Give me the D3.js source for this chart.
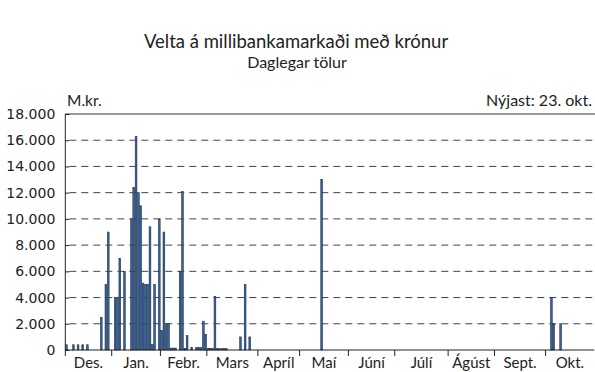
<!DOCTYPE html>
<html>
<head>
<meta charset="utf-8">
<script src="https://cdn.jsdelivr.net/npm/d3@7"></script>
<style>
  html, body { margin: 0; padding: 0; background: #fff; }
  svg { display: block; }
  text { fill: #222; }
</style>
</head>
<body>
<svg id="chart" width="595" height="372"></svg>
<script>
// Month labels and number of trading days in each month
const monthLabels = ["Des.", "Jan.", "Febr.", "Mars", "Apríl", "Maí", "Júní", "Júlí", "Ágúst", "Sept.", "Okt."];
const tradingDays = [20, 21, 20, 22, 18, 21, 20, 23, 20, 22, 21];

// Days with turnover: month index, trading day within the month, turnover in M.kr.
const tradeMonth = [0,0,0,0,0,0,0,0,
  1,1,1,1,1,1,1,1,1,1,1,1,1,1,1,1,
  2,2,2,2,2,2,2,2,2,2,2,2,2,2,2,2,2,
  3,3,3,3,3,3,3,3,3,3,3,3,
  5,
  10,10,10];
const tradeDay = [0,3,5,7,9,15,17,18,
  1,2,3,5,8,9,10,11,12,13,14,15,16,17,18,20,
  0,1,2,3,4,5,6,8,9,10,11,13,15,16,17,18,19,
  0,1,2,3,4,5,6,7,8,14,16,18,
  9,
  2,3,6];
const turnover = [400,400,400,400,400,2500,5000,9000,
  4000,4000,7000,6000,10000,12400,16300,12000,11000,5100,5000,5000,9400,430,5000,10000,
  1500,9000,2000,2000,150,150,150,6000,12100,130,1100,200,180,180,180,2200,1200,
  130,130,130,4100,100,100,100,100,100,1000,5000,1000,
  13000,
  4000,2000,2000];

const yTicks = [0, 2000, 4000, 6000, 8000, 10000, 12000, 14000, 16000, 18000];
const yTickLabels = ["0", "2.000", "4.000", "6.000", "8.000", "10.000", "12.000", "14.000", "16.000", "18.000"];

const svg = d3.select("#chart");
const plotLeft = 65.3, plotRight = 594.3, plotTop = 114, plotBottom = 350;

// first trading-day index of each month
const monthStart = Array.from(d3.cumsum([0].concat(tradingDays.slice(0, -1))));
const totalDays = d3.sum(tradingDays);

const x = d3.scaleBand().domain(d3.range(totalDays)).range([plotLeft, plotRight]).padding(0);
const y = d3.scaleLinear().domain([0, 18000]).range([plotBottom, plotTop]);

const bars = turnover.map((v, k) => ({ idx: monthStart[tradeMonth[k]] + tradeDay[k], value: v }));

// Titles
svg.append("text").attr("x", 296).attr("y", 48).attr("text-anchor", "middle")
  .style("font-family", "Lato, sans-serif").style("font-size", "18.5px")
  .text("Velta á millibankamarkaði með krónur");
svg.append("text").attr("x", 297).attr("y", 68).attr("text-anchor", "middle")
  .style("font-family", "Lato, sans-serif").style("font-size", "16px")
  .text("Daglegar tölur");

svg.append("text").attr("x", 67).attr("y", 106)
  .style("font-family", "Lato, sans-serif").style("font-size", "15.5px")
  .text("M.kr.");
svg.append("text").attr("x", 592).attr("y", 106).attr("text-anchor", "end")
  .style("font-family", "Lato, sans-serif").style("font-size", "16px")
  .text("Nýjast: 23. okt.");

// Dashed gridlines
svg.append("g").selectAll("line")
  .data(yTicks.filter(t => t > 0 && t < 18000))
  .join("line")
  .attr("x1", plotLeft + 4).attr("x2", plotRight)
  .attr("y1", d => y(d)).attr("y2", d => y(d))
  .attr("stroke", "#444").attr("stroke-width", 1)
  .attr("stroke-dasharray", "7,5");

// Top frame line
svg.append("line").attr("x1", plotLeft).attr("x2", 595).attr("y1", plotTop).attr("y2", plotTop)
  .attr("stroke", "#777").attr("stroke-width", 1.4);

// Bars
svg.append("g").selectAll("rect")
  .data(bars)
  .join("rect")
  .attr("x", d => x(d.idx) + 0.25)
  .attr("width", x.bandwidth() - 0.5)
  .attr("y", d => y(d.value))
  .attr("height", d => y(0) - y(d.value))
  .attr("fill", "#2f63a3")
  .attr("stroke", "#232833")
  .attr("stroke-width", 0.5);

// Y axis with inward ticks
const yAxis = d3.axisRight(y).tickValues(yTicks).tickSize(4)
  .tickFormat((d, i) => yTickLabels[i]);
const gy = svg.append("g").attr("transform", `translate(${plotLeft},0)`).call(yAxis);
gy.select(".domain").remove();
gy.selectAll(".tick line").attr("stroke", "#222");
gy.selectAll(".tick text")
  .attr("x", -10).attr("text-anchor", "end")
  .style("font-family", "'DejaVu Sans', sans-serif").style("font-size", "14px")
  .attr("fill", "#222");
svg.append("line").attr("x1", plotLeft).attr("x2", plotLeft).attr("y1", plotTop).attr("y2", plotBottom + 6)
  .attr("stroke", "#222").attr("stroke-width", 1);

// Baseline and month boundary ticks
svg.append("line").attr("x1", plotLeft).attr("x2", plotRight).attr("y1", plotBottom).attr("y2", plotBottom)
  .attr("stroke", "#222").attr("stroke-width", 1);
svg.append("g").selectAll("line")
  .data(monthStart.slice(1))
  .join("line")
  .attr("x1", d => x(d)).attr("x2", d => x(d))
  .attr("y1", plotBottom).attr("y2", plotBottom + 6)
  .attr("stroke", "#222");

// Month labels centred in each month
svg.append("g").selectAll("text")
  .data(monthLabels)
  .join("text")
  .attr("x", (d, i) => (x(monthStart[i]) + (i + 1 < monthStart.length ? x(monthStart[i + 1]) : plotRight)) / 2)
  .attr("y", 367.5)
  .attr("text-anchor", "middle")
  .style("font-family", "Lato, sans-serif").style("font-size", "15px")
  .text(d => d);
</script>
</body>
</html>
